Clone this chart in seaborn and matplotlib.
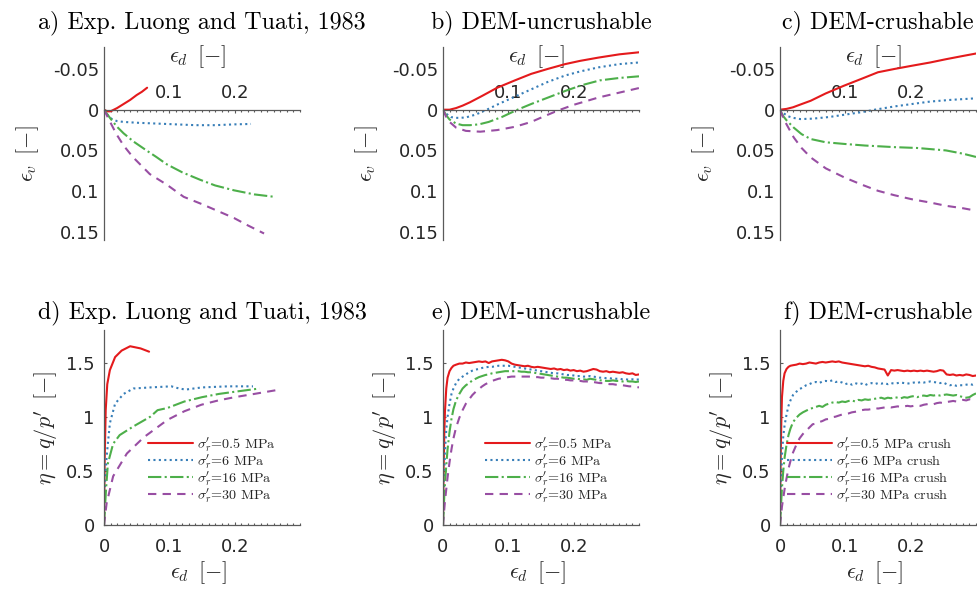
import matplotlib
matplotlib.use("Agg")
import matplotlib.pyplot as plt
from matplotlib.ticker import MultipleLocator
import numpy as np
import pandas as pd
import seaborn as sns

# ---------------------------------------------------------------- data
series_keys = ["0.5", "6", "16", "30"]
series_colors = ["#E41A1C", "#377EB8", "#4DAF4A", "#984EA3"]

legend_exp = [r"$\sigma_r^\prime$=0.5 MPa", r"$\sigma_r^\prime$=6 MPa",
              r"$\sigma_r^\prime$=16 MPa", r"$\sigma_r^\prime$=30 MPa"]
legend_crush = [r"$\sigma_r^\prime$=0.5 MPa crush", r"$\sigma_r^\prime$=6 MPa crush",
                r"$\sigma_r^\prime$=16 MPa crush", r"$\sigma_r^\prime$=30 MPa crush"]

titles = ["a) Exp. Luong and Tuati, 1983", "b) DEM-uncrushable", "c) DEM-crushable",
          "d) Exp. Luong and Tuati, 1983", "e) DEM-uncrushable", "f) DEM-crushable"]

vol_yticks = [-0.05, 0, 0.05, 0.1, 0.15]
vol_yticklabels = ["-0.05", "0", "0.05", "0.1", "0.15"]
vol_xticks = [0.1, 0.2]
vol_xticklabels = ["0.1", "0.2"]
eta_yticks = [0, 0.5, 1, 1.5]
eta_yticklabels = ["0", "0.5", "1", "1.5"]
eta_xticks = [0, 0.1, 0.2]
eta_xticklabels = ["0", "0.1", "0.2"]

# a) experiments, volumetric strain
a_red_x = [0, 0.005, 0.010, 0.015, 0.020, 0.030, 0.040, 0.050, 0.058, 0.066]
a_red_y = [0, 0.002, 0.002, 0.000, -0.002, -0.007, -0.012, -0.018, -0.022, -0.027]
a_blue_x = [0, 0.004, 0.008, 0.013, 0.020, 0.030, 0.050, 0.080, 0.110, 0.140, 0.170, 0.200, 0.225]
a_blue_y = [0, 0.005, 0.009, 0.012, 0.014, 0.015, 0.016, 0.017, 0.018, 0.019, 0.019, 0.018, 0.0175]
a_green_x = [0, 0.010, 0.020, 0.030, 0.045, 0.065, 0.080, 0.096, 0.120, 0.147, 0.170, 0.199, 0.230, 0.261]
a_green_y = [0, 0.011, 0.021, 0.029, 0.039, 0.050, 0.058, 0.067, 0.077, 0.086, 0.093, 0.099, 0.104, 0.107]
a_purple_x = [0, 0.010, 0.019, 0.030, 0.044, 0.070, 0.096, 0.122, 0.150, 0.173, 0.199, 0.220, 0.245]
a_purple_y = [0, 0.016, 0.030, 0.044, 0.058, 0.079, 0.092, 0.107, 0.116, 0.124, 0.133, 0.142, 0.152]

# b) DEM uncrushable, volumetric strain
b_red_x = [0, 0.010, 0.020, 0.030, 0.041, 0.060, 0.083, 0.110, 0.135, 0.160, 0.187, 0.210, 0.238, 0.270, 0.300]
b_red_y = [0, 0.000, -0.002, -0.005, -0.009, -0.017, -0.027, -0.036, -0.044, -0.050, -0.056, -0.060, -0.064, -0.068, -0.0705]
b_blue_x = [0, 0.005, 0.012, 0.020, 0.026, 0.035, 0.050, 0.067, 0.085, 0.110, 0.135, 0.160, 0.187, 0.210, 0.238, 0.270, 0.300]
b_blue_y = [0, 0.005, 0.009, 0.010, 0.010, 0.0095, 0.006, 0.000, -0.007, -0.016, -0.025, -0.034, -0.042, -0.047, -0.052, -0.056, -0.058]
b_green_x = [0, 0.005, 0.010, 0.020, 0.030, 0.041, 0.055, 0.070, 0.090, 0.114, 0.135, 0.161, 0.187, 0.212, 0.240, 0.270, 0.300]
b_green_y = [0, 0.007, 0.012, 0.017, 0.019, 0.019, 0.018, 0.015, 0.009, 0.000, -0.007, -0.015, -0.023, -0.030, -0.036, -0.039, -0.041]
b_purple_x = [0, 0.005, 0.010, 0.020, 0.035, 0.057, 0.083, 0.110, 0.135, 0.155, 0.176, 0.200, 0.238, 0.270, 0.300]
b_purple_y = [0, 0.009, 0.015, 0.022, 0.026, 0.027, 0.025, 0.021, 0.015, 0.008, 0.001, -0.006, -0.015, -0.021, -0.0266]

# c) DEM crushable, volumetric strain
c_red_x = [0, 0.010, 0.020, 0.030, 0.047, 0.070, 0.098, 0.125, 0.150, 0.175, 0.202, 0.230, 0.254, 0.280, 0.300]
c_red_y = [0, -0.001, -0.003, -0.006, -0.011, -0.020, -0.0295, -0.038, -0.046, -0.050, -0.054, -0.058, -0.062, -0.066, -0.069]
c_blue_x = [0, 0.005, 0.012, 0.020, 0.031, 0.050, 0.075, 0.100, 0.125, 0.145, 0.175, 0.202, 0.230, 0.260, 0.300]
c_blue_y = [0, 0.004, 0.008, 0.010, 0.0115, 0.011, 0.009, 0.006, 0.003, 0.000, -0.004, -0.007, -0.010, -0.012, -0.014]
c_green_x = [0, 0.005, 0.010, 0.021, 0.033, 0.047, 0.070, 0.098, 0.130, 0.176, 0.210, 0.254, 0.280, 0.300]
c_green_y = [0, 0.008, 0.013, 0.022, 0.030, 0.036, 0.040, 0.042, 0.044, 0.046, 0.047, 0.050, 0.054, 0.058]
c_purple_x = [0, 0.005, 0.010, 0.021, 0.033, 0.047, 0.070, 0.098, 0.125, 0.150, 0.175, 0.202, 0.230, 0.254, 0.280, 0.300]
c_purple_y = [0, 0.010, 0.018, 0.034, 0.047, 0.0586, 0.072, 0.083, 0.092, 0.0996, 0.105, 0.110, 0.114, 0.118, 0.121, 0.124]

# d) experiments, stress ratio
d_red_x = [0, 0.001, 0.0026, 0.005, 0.009, 0.017, 0.027, 0.040, 0.056, 0.069]
d_red_y = [0, 0.60, 1.06, 1.30, 1.43, 1.55, 1.61, 1.65, 1.63, 1.60]
d_blue_x = [0, 0.001, 0.004, 0.009, 0.017, 0.030, 0.045, 0.071, 0.103, 0.115, 0.125, 0.150, 0.190, 0.228]
d_blue_y = [0, 0.32, 0.63, 0.94, 1.12, 1.21, 1.26, 1.27, 1.28, 1.26, 1.25, 1.27, 1.28, 1.28]
d_green_x = [0, 0.003, 0.006, 0.014, 0.024, 0.045, 0.071, 0.082, 0.097, 0.123, 0.150, 0.176, 0.200, 0.238]
d_green_y = [0, 0.32, 0.57, 0.75, 0.83, 0.91, 1.00, 1.06, 1.08, 1.14, 1.18, 1.21, 1.23, 1.26]
d_purple_x = [0, 0.004, 0.014, 0.035, 0.061, 0.097, 0.123, 0.149, 0.175, 0.200, 0.230, 0.264]
d_purple_y = [0, 0.20, 0.45, 0.66, 0.81, 0.97, 1.05, 1.11, 1.15, 1.18, 1.21, 1.245]

# e), f) DEM stress ratio, sampled on a common strain grid
dem_x = [0, 0.0005, 0.001, 0.002, 0.003, 0.005, 0.007, 0.010, 0.013, 0.016, 0.020,
         0.025, 0.030, 0.035, 0.040, 0.045, 0.050, 0.055, 0.060, 0.065, 0.070,
         0.075, 0.080, 0.085, 0.090, 0.095, 0.100, 0.105, 0.110, 0.115, 0.120,
         0.125, 0.130, 0.135, 0.140, 0.145, 0.150, 0.155, 0.160, 0.165, 0.170,
         0.175, 0.180, 0.185, 0.190, 0.195, 0.200, 0.205, 0.210, 0.215, 0.220,
         0.225, 0.230, 0.235, 0.240, 0.245, 0.250, 0.255, 0.260, 0.265, 0.270,
         0.275, 0.280, 0.285, 0.290, 0.295, 0.300]

e_red_y = [0, 0.30, 0.55, 0.85, 1.05, 1.26, 1.36, 1.42, 1.45, 1.47, 1.48,
           1.49, 1.49, 1.50, 1.495, 1.50, 1.505, 1.51, 1.505, 1.51, 1.495,
           1.51, 1.515, 1.52, 1.525, 1.52, 1.51, 1.49, 1.48, 1.475, 1.47,
           1.465, 1.47, 1.46, 1.455, 1.46, 1.455, 1.45, 1.445, 1.44, 1.445,
           1.435, 1.44, 1.43, 1.435, 1.425, 1.43, 1.42, 1.425, 1.415, 1.42,
           1.43, 1.44, 1.435, 1.42, 1.415, 1.42, 1.41, 1.415, 1.41, 1.405,
           1.41, 1.40, 1.395, 1.40, 1.385, 1.39]
e_blue_y = [0, 0.15, 0.30, 0.50, 0.68, 0.88, 1.00, 1.12, 1.21, 1.26, 1.31,
            1.35, 1.37, 1.39, 1.41, 1.425, 1.435, 1.44, 1.45, 1.455, 1.46,
            1.46, 1.465, 1.47, 1.47, 1.47, 1.47, 1.465, 1.46, 1.455, 1.45,
            1.445, 1.44, 1.435, 1.43, 1.425, 1.42, 1.415, 1.41, 1.405, 1.40,
            1.40, 1.395, 1.39, 1.385, 1.385, 1.38, 1.375, 1.375, 1.37, 1.37,
            1.375, 1.37, 1.365, 1.36, 1.36, 1.355, 1.355, 1.35, 1.35, 1.35,
            1.345, 1.345, 1.34, 1.345, 1.34, 1.345]
e_green_y = [0, 0.07, 0.14, 0.27, 0.38, 0.55, 0.70, 0.86, 0.98, 1.07, 1.15,
             1.21, 1.26, 1.29, 1.31, 1.335, 1.35, 1.365, 1.375, 1.385, 1.39,
             1.40, 1.405, 1.41, 1.415, 1.42, 1.42, 1.42, 1.42, 1.42, 1.415,
             1.415, 1.41, 1.41, 1.405, 1.40, 1.395, 1.39, 1.385, 1.38, 1.375,
             1.37, 1.365, 1.36, 1.36, 1.355, 1.35, 1.35, 1.345, 1.345, 1.34,
             1.35, 1.345, 1.34, 1.335, 1.335, 1.33, 1.33, 1.335, 1.33, 1.33,
             1.325, 1.33, 1.325, 1.325, 1.32, 1.325]
e_purple_y = [0, 0.04, 0.08, 0.15, 0.22, 0.33, 0.44, 0.58, 0.70, 0.80, 0.90,
              0.99, 1.06, 1.12, 1.16, 1.20, 1.23, 1.255, 1.28, 1.30, 1.315,
              1.33, 1.34, 1.35, 1.355, 1.36, 1.365, 1.37, 1.37, 1.37, 1.37,
              1.37, 1.37, 1.37, 1.365, 1.365, 1.36, 1.36, 1.355, 1.355, 1.35,
              1.35, 1.345, 1.34, 1.34, 1.335, 1.335, 1.33, 1.33, 1.325, 1.325,
              1.32, 1.32, 1.315, 1.31, 1.31, 1.305, 1.30, 1.30, 1.295, 1.29,
              1.29, 1.285, 1.28, 1.28, 1.275, 1.27]

f_red_y = [0, 0.35, 0.62, 0.95, 1.18, 1.33, 1.40, 1.44, 1.46, 1.47, 1.475,
           1.48, 1.49, 1.485, 1.49, 1.50, 1.495, 1.49, 1.50, 1.505, 1.50,
           1.505, 1.51, 1.505, 1.51, 1.50, 1.495, 1.49, 1.485, 1.48, 1.475,
           1.47, 1.465, 1.47, 1.46, 1.455, 1.445, 1.44, 1.435, 1.38, 1.43,
           1.425, 1.43, 1.425, 1.42, 1.425, 1.42, 1.425, 1.42, 1.425, 1.42,
           1.425, 1.42, 1.415, 1.42, 1.43, 1.425, 1.39, 1.385, 1.39, 1.38,
           1.385, 1.38, 1.39, 1.385, 1.375, 1.38]
f_blue_y = [0, 0.12, 0.24, 0.45, 0.64, 0.82, 0.92, 1.02, 1.10, 1.15, 1.20,
            1.23, 1.255, 1.27, 1.29, 1.30, 1.315, 1.32, 1.31, 1.325, 1.33,
            1.325, 1.335, 1.32, 1.325, 1.315, 1.30, 1.31, 1.295, 1.31, 1.30,
            1.305, 1.29, 1.305, 1.31, 1.30, 1.31, 1.305, 1.31, 1.30, 1.31,
            1.305, 1.31, 1.315, 1.31, 1.305, 1.31, 1.315, 1.31, 1.32, 1.315,
            1.32, 1.325, 1.32, 1.315, 1.31, 1.315, 1.30, 1.29, 1.295, 1.285,
            1.29, 1.29, 1.295, 1.30, 1.295, 1.305]
f_green_y = [0, 0.06, 0.12, 0.23, 0.34, 0.50, 0.62, 0.74, 0.83, 0.89, 0.95,
             0.99, 1.02, 1.04, 1.055, 1.07, 1.08, 1.09, 1.10, 1.09, 1.11,
             1.12, 1.13, 1.135, 1.13, 1.14, 1.135, 1.145, 1.15, 1.14, 1.155,
             1.15, 1.16, 1.155, 1.16, 1.165, 1.17, 1.175, 1.165, 1.175, 1.17,
             1.18, 1.175, 1.17, 1.18, 1.175, 1.185, 1.19, 1.18, 1.19, 1.195,
             1.19, 1.20, 1.195, 1.20, 1.195, 1.20, 1.205, 1.20, 1.195, 1.20,
             1.19, 1.18, 1.175, 1.18, 1.20, 1.215]
f_purple_y = [0, 0.03, 0.06, 0.11, 0.17, 0.25, 0.33, 0.43, 0.52, 0.59, 0.67,
              0.74, 0.80, 0.84, 0.87, 0.90, 0.93, 0.935, 0.95, 0.96, 0.975,
              0.98, 0.995, 1.00, 1.01, 1.02, 1.025, 1.03, 1.04, 1.045, 1.05,
              1.06, 1.065, 1.065, 1.07, 1.08, 1.075, 1.08, 1.085, 1.09, 1.085,
              1.09, 1.095, 1.09, 1.095, 1.10, 1.095, 1.10, 1.105, 1.10, 1.11,
              1.115, 1.12, 1.115, 1.125, 1.13, 1.125, 1.135, 1.14, 1.145, 1.14,
              1.15, 1.155, 1.15, 1.16, 1.155, 1.165]

# ---------------------------------------------------------------- style
sns.set_theme(style="white")
plt.rcParams["font.family"] = ["DejaVu Sans"]
plt.rcParams["mathtext.fontset"] = "cm"
plt.rcParams["axes.unicode_minus"] = False

LINE_DASHES = ["", (1, 1.6), (6.4, 1.6, 1, 1.6), (4, 3)]
AXIS_COLOR = "#5a5a5a"
TEXT_COLOR = "#262626"
TICK_SIZE = 13
TITLE_FONT = dict(family="cmr10", size=17.3, color="black")
LABEL_SIZE = 16

W, H = 977, 592
fig = plt.figure(figsize=(W / 100, H / 100), dpi=100)


def add_axes_px(left, top, width, height):
    return fig.add_axes([left / W, 1 - (top + height) / H, width / W, height / H])


def draw_curves(ax, xs_list, ys_list):
    frames = [pd.DataFrame({"eps_d": xs, "value": ys, "series": key})
              for key, xs, ys in zip(series_keys, xs_list, ys_list)]
    df = pd.concat(frames, ignore_index=True)
    sns.lineplot(data=df, x="eps_d", y="value", hue="series", style="series",
                 hue_order=series_keys, style_order=series_keys,
                 palette=dict(zip(series_keys, series_colors)),
                 dashes=dict(zip(series_keys, LINE_DASHES)),
                 estimator=None, sort=False, linewidth=1.5, legend=False, ax=ax)
    ax.set_xlabel("")
    ax.set_ylabel("")


def style_spines(ax):
    for side in ("left", "top", "bottom"):
        ax.spines[side].set_color(AXIS_COLOR)
        ax.spines[side].set_linewidth(0.9)
    ax.spines["right"].set_visible(False)


vol_data = [
    ([a_red_x, a_blue_x, a_green_x, a_purple_x], [a_red_y, a_blue_y, a_green_y, a_purple_y]),
    ([b_red_x, b_blue_x, b_green_x, b_purple_x], [b_red_y, b_blue_y, b_green_y, b_purple_y]),
    ([c_red_x, c_blue_x, c_green_x, c_purple_x], [c_red_y, c_blue_y, c_green_y, c_purple_y]),
]
eta_data = [
    ([d_red_x, d_blue_x, d_green_x, d_purple_x], [d_red_y, d_blue_y, d_green_y, d_purple_y]),
    ([dem_x] * 4, [e_red_y, e_blue_y, e_green_y, e_purple_y]),
    ([dem_x] * 4, [f_red_y, f_blue_y, f_green_y, f_purple_y]),
]
legend_labels = [legend_exp, legend_exp, legend_crush]
legend_anchor_x = [0.224, 0.214, 0.036]
lefts = [104, 443, 780]

# ---------------------------------------------------------------- top row
for i, (xs_list, ys_list) in enumerate(vol_data):
    ax = add_axes_px(lefts[i], 47, 196, 193)
    draw_curves(ax, xs_list, ys_list)
    ax.set_xlim(0, 0.3)
    ax.set_ylim(0.16, -0.077)
    style_spines(ax)
    ax.spines["bottom"].set_visible(False)
    ax.spines["top"].set_position(("data", 0))
    ax.xaxis.set_ticks_position("top")
    ax.xaxis.set_label_position("top")
    ax.set_xticks(vol_xticks)
    ax.set_xticklabels(vol_xticklabels)
    ax.xaxis.set_minor_locator(MultipleLocator(0.01))
    ax.set_yticks(vol_yticks)
    ax.set_yticklabels(vol_yticklabels)
    ax.tick_params(axis="x", which="major", direction="in", length=2.5, width=0.8,
                   color=AXIS_COLOR, pad=5.5, labelsize=TICK_SIZE, labelcolor=TEXT_COLOR)
    ax.tick_params(axis="x", which="minor", direction="in", length=1.5, width=0.8,
                   color=AXIS_COLOR)
    ax.tick_params(axis="y", direction="in", length=2, width=0.8, color=AXIS_COLOR,
                   pad=3.3, labelsize=TICK_SIZE, labelcolor=TEXT_COLOR)
    ax.set_xlabel(r"$\epsilon_d\ \,[-]$", fontsize=LABEL_SIZE, color=TEXT_COLOR)
    ax.xaxis.label.set_va("center")
    ax.xaxis.set_label_coords(0.48, 0.948)
    ax.set_ylabel(r"$\epsilon_v\ \,[-]$", fontsize=LABEL_SIZE, color=TEXT_COLOR)
    ax.yaxis.label.set_va("center")
    ax.yaxis.set_label_coords(-0.39, 0.446)
    ax.text(0.5, 1.098, titles[i], transform=ax.transAxes, ha="center",
            va="baseline", **TITLE_FONT)

# ---------------------------------------------------------------- bottom row
for i, (xs_list, ys_list) in enumerate(eta_data):
    ax = add_axes_px(lefts[i], 330, 196, 195)
    draw_curves(ax, xs_list, ys_list)
    ax.set_xlim(0, 0.3)
    ax.set_ylim(0, 1.8)
    style_spines(ax)
    ax.spines["top"].set_visible(False)
    ax.set_xticks(eta_xticks)
    ax.set_xticklabels(eta_xticklabels)
    ax.xaxis.set_minor_locator(MultipleLocator(0.01))
    ax.set_yticks(eta_yticks)
    ax.set_yticklabels(eta_yticklabels)
    ax.tick_params(axis="x", which="major", direction="in", length=2.5, width=0.8,
                   color=AXIS_COLOR, pad=9, labelsize=TICK_SIZE, labelcolor=TEXT_COLOR,
                   bottom=True)
    ax.tick_params(axis="x", which="minor", direction="in", length=1.5, width=0.8,
                   color=AXIS_COLOR, bottom=True)
    ax.tick_params(axis="y", direction="in", length=2, width=0.8, color=AXIS_COLOR,
                   pad=6.7, labelsize=TICK_SIZE, labelcolor=TEXT_COLOR, left=True)
    ax.set_xlabel(r"$\epsilon_d\ \,[-]$", fontsize=LABEL_SIZE, color=TEXT_COLOR)
    ax.xaxis.label.set_va("center")
    ax.xaxis.set_label_coords(0.485, -0.246)
    ax.set_ylabel(r"$\eta = q/p^\prime\ \,[-]$", fontsize=LABEL_SIZE, color=TEXT_COLOR)
    ax.yaxis.label.set_va("center")
    ax.yaxis.set_label_coords(-0.296, 0.5)
    ax.text(0.5, 1.06, titles[3 + i], transform=ax.transAxes, ha="center",
            va="baseline", **TITLE_FONT)
    ax.legend(ax.get_lines()[:4], legend_labels[i], loc="upper left",
              bbox_to_anchor=(legend_anchor_x[i], 0.46), frameon=False,
              prop=dict(family="cmr10", size=10.2), handlelength=3.2,
              handletextpad=0.25, labelspacing=-0.12, borderpad=0, borderaxespad=0)

fig.savefig("out.png", dpi=100, facecolor="white")
